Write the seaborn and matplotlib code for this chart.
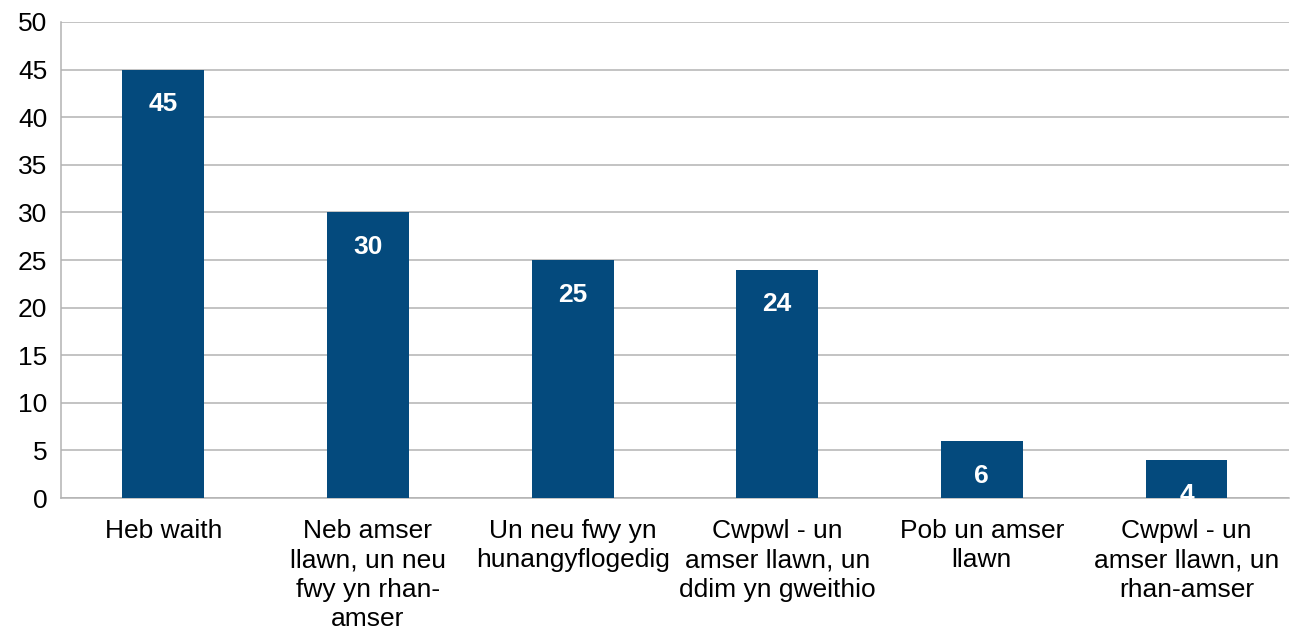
import matplotlib
matplotlib.use('Agg')
import matplotlib.pyplot as plt
import seaborn as sns
import pandas as pd

# Data
categories = [
    'Heb waith',
    'Neb amser\nllawn, un neu\nfwy yn rhan-\namser',
    'Un neu fwy yn\nhunangyflogedig',
    'Cwpwl - un\namser llawn, un\nddim yn gweithio',
    'Pob un amser\nllawn',
    'Cwpwl - un\namser llawn, un\nrhan-amser',
]
values = [45, 30, 25, 24, 6, 4]

df = pd.DataFrame({'category': categories, 'value': values})

sns.set_style('white')
plt.rcParams['font.family'] = ['Liberation Sans', 'DejaVu Sans']

fig = plt.figure(figsize=(12.91, 6.35), dpi=100)
ax = fig.add_axes([0.0473, 0.2157, 0.951, 0.7497])

bar_color = '#044a7d'
sns.barplot(data=df, x='category', y='value', color=bar_color, width=0.4,
            saturation=1, ax=ax, zorder=3, edgecolor='none', linewidth=0)

ax.set_ylim(0, 50)
ax.set_yticks(range(0, 51, 5))
ax.set_xlim(-0.5, len(categories) - 0.5)
ax.set_xlabel('')
ax.set_ylabel('')

# gridlines
ax.yaxis.grid(True, color='#b3b3b3', linewidth=1.1, zorder=0)
ax.set_axisbelow(True)

for side in ['top', 'right']:
    ax.spines[side].set_visible(False)
for side in ['left', 'bottom']:
    ax.spines[side].set_color('#b3b3b3')
    ax.spines[side].set_linewidth(1.1)

# x ticks at category boundaries, labels in the middle
ax.set_xticks([i - 0.5 for i in range(len(categories) + 1)], minor=False)
ax.set_xticklabels([])
ax.set_xticks(range(len(categories)), minor=True)
ax.set_xticklabels(categories, minor=True, fontsize=19, linespacing=1.29, color='black')
ax.tick_params(axis='x', which='major', length=10, width=1.1, color='#b3b3b3', direction='out')
ax.tick_params(axis='x', which='minor', length=0, pad=15)
ax.tick_params(axis='y', length=6, width=1.1, color='#b3b3b3', labelsize=19,
               labelcolor='black', pad=4, direction='out')

# value labels inside bars
for i, v in enumerate(values):
    ax.annotate(str(v), (i, v), xytext=(0, -25), textcoords='offset points',
                ha='center', va='center', color='white', fontsize=19,
                fontweight='bold', zorder=4)

fig.savefig('out.png', dpi=100)
